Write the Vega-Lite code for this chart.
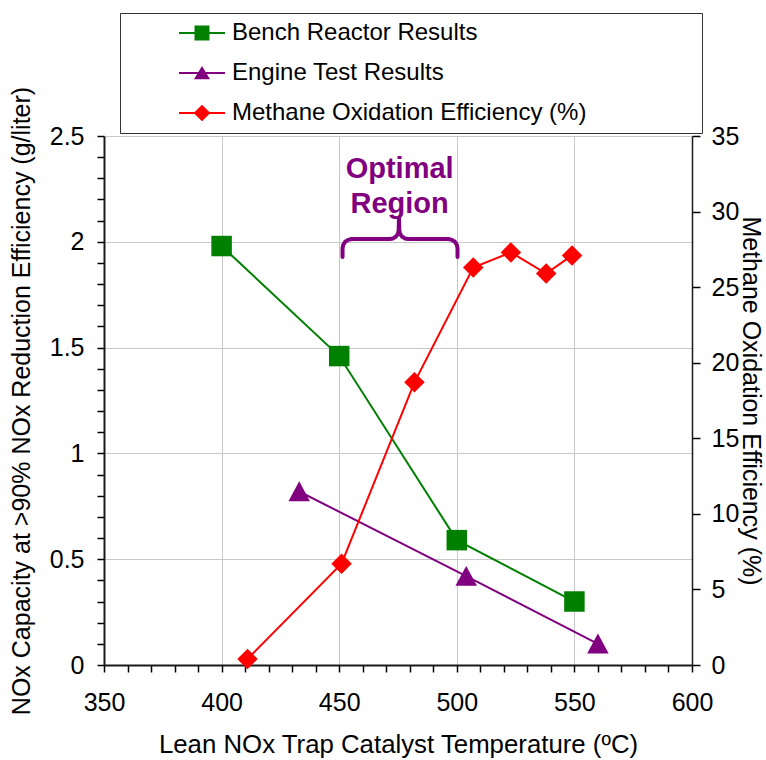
{
  "$schema": "https://vega.github.io/schema/vega-lite/v6.json",
  "width": 588,
  "height": 529,
  "autosize": {"type": "none"},
  "padding": {"left": 104, "top": 136, "right": 74, "bottom": 95},
  "background": "white",
  "config": {
    "view": {"stroke": null},
    "font": "Liberation Sans",
    "axis": {
      "labelFont": "Liberation Sans",
      "titleFont": "Liberation Sans",
      "labelFontSize": 25,
      "titleFontSize": 25.5,
      "titleFontWeight": "normal",
      "labelColor": "#000000",
      "titleColor": "#000000",
      "tickColor": "#000000",
      "tickWidth": 1.5,
      "domainColor": "#1a1a1a",
      "gridColor": "#c8c8c8",
      "gridWidth": 1,
      "labelFlush": false,
      "labelOverlap": false
    },
    "legend": {"symbolOpacity": 1}
  },
  "datasets": {
    "capacity": [
      {"series": "Bench Reactor Results", "temp": 400, "value": 1.98},
      {"series": "Bench Reactor Results", "temp": 450, "value": 1.46},
      {"series": "Bench Reactor Results", "temp": 500, "value": 0.59},
      {"series": "Bench Reactor Results", "temp": 550, "value": 0.30},
      {"series": "Engine Test Results", "temp": 433, "value": 0.82},
      {"series": "Engine Test Results", "temp": 504, "value": 0.42},
      {"series": "Engine Test Results", "temp": 560, "value": 0.10}
    ],
    "methane": [
      {"series": "Methane Oxidation Efficiency (%)", "temp": 411, "value": 0.4},
      {"series": "Methane Oxidation Efficiency (%)", "temp": 451, "value": 6.7},
      {"series": "Methane Oxidation Efficiency (%)", "temp": 482, "value": 18.7},
      {"series": "Methane Oxidation Efficiency (%)", "temp": 507, "value": 26.3},
      {"series": "Methane Oxidation Efficiency (%)", "temp": 523, "value": 27.3},
      {"series": "Methane Oxidation Efficiency (%)", "temp": 538, "value": 25.9},
      {"series": "Methane Oxidation Efficiency (%)", "temp": 549, "value": 27.1}
    ],
    "brace": [
      {"k": 1, "temp": 451.42, "value": 1.928},
      {"k": 2, "temp": 451.42, "value": 1.970},
      {"k": 3, "temp": 451.72, "value": 1.986},
      {"k": 4, "temp": 452.53, "value": 2.000},
      {"k": 5, "temp": 453.81, "value": 2.009},
      {"k": 6, "temp": 455.26, "value": 2.013},
      {"k": 7, "temp": 471.45, "value": 2.013},
      {"k": 8, "temp": 472.90, "value": 2.016},
      {"k": 9, "temp": 474.18, "value": 2.025},
      {"k": 10, "temp": 474.99, "value": 2.039},
      {"k": 11, "temp": 475.29, "value": 2.055},
      {"k": 12, "temp": 475.41, "value": 2.112},
      {"k": 13, "temp": 475.54, "value": 2.055},
      {"k": 14, "temp": 475.84, "value": 2.039},
      {"k": 15, "temp": 476.65, "value": 2.025},
      {"k": 16, "temp": 477.93, "value": 2.016},
      {"k": 17, "temp": 479.38, "value": 2.013},
      {"k": 18, "temp": 496.46, "value": 2.013},
      {"k": 19, "temp": 497.91, "value": 2.009},
      {"k": 20, "temp": 499.19, "value": 2.000},
      {"k": 21, "temp": 500.00, "value": 1.986},
      {"k": 22, "temp": 500.30, "value": 1.970},
      {"k": 23, "temp": 500.30, "value": 1.928}
    ],
    "note": [
      {"label": "Optimal", "temp": 475.7, "value": 2.301},
      {"label": "Region", "temp": 475.7, "value": 2.136}
    ]
  },
  "layer": [
    {
      "layer": [
        {
          "data": {"name": "capacity"},
          "transform": [{"filter": "datum.series === 'Bench Reactor Results'"}],
          "mark": {"type": "line", "color": "#008000", "strokeWidth": 2},
          "encoding": {
            "x": {
              "field": "temp",
              "type": "quantitative",
              "scale": {"domain": [350, 600], "nice": false},
              "axis": {
                "orient": "bottom",
                "title": "Lean NOx Trap Catalyst Temperature (ºC)",
                "titleFontSize": 25.8,
                "values": [350, 360, 370, 380, 390, 400, 410, 420, 430, 440, 450, 460, 470, 480, 490, 500, 510, 520, 530, 540, 550, 560, 570, 580, 590, 600],
                "tickCount": 40,
                "format": "d",
                "labelExpr": "datum.value % 50 === 0 ? datum.label : ''",
                "labelOverlap": false,
                "grid": true,
                "gridOpacity": {"condition": {"test": "datum.value % 50 === 0", "value": 1}, "value": 0},
                "tickSize": 7,
                "labelPadding": 18,
                "titlePadding": 17,
                "domainWidth": 2,
                "encode": {
                  "ticks": {
                    "y": {"condition": {"test": "datum.value % 50 === 0", "value": -7}, "value": 0},
                    "y2": {"condition": {"test": "datum.value % 50 === 0", "value": 7}, "value": -7}
                  }
                }
              }
            },
            "y": {
              "field": "value",
              "type": "quantitative",
              "scale": {"domain": [0, 2.5], "nice": false},
              "axis": {
                "orient": "left",
                "title": "NOx Capacity at >90% NOx Reduction Efficiency (g/liter)",
                "titleFontSize": 25,
                "values": [0, 0.1, 0.2, 0.3, 0.4, 0.5, 0.6, 0.7, 0.8, 0.9, 1, 1.1, 1.2, 1.3, 1.4, 1.5, 1.6, 1.7, 1.8, 1.9, 2, 2.1, 2.2, 2.3, 2.4, 2.5],
                "tickCount": 40,
                "format": "~g",
                "labelExpr": "abs(datum.value * 2 - round(datum.value * 2)) < 0.001 ? datum.label : ''",
                "labelOverlap": false,
                "grid": true,
                "gridOpacity": {"condition": {"test": "abs(datum.value * 2 - round(datum.value * 2)) < 0.001", "value": 1}, "value": 0},
                "tickSize": 7,
                "labelPadding": 13,
                "titlePadding": 15,
                "domainWidth": 2,
                "encode": {
                  "ticks": {
                    "x": {"condition": {"test": "abs(datum.value * 2 - round(datum.value * 2)) < 0.001", "value": -7}, "value": 0},
                    "x2": {"value": 7}
                  }
                }
              }
            }
          }
        },
        {
          "data": {"name": "capacity"},
          "transform": [{"filter": "datum.series === 'Bench Reactor Results'"}],
          "mark": {"type": "point", "shape": "square", "filled": true, "opacity": 1, "size": 420, "color": "#008000"},
          "encoding": {
            "x": {"field": "temp", "type": "quantitative", "scale": {"domain": [350, 600], "nice": false}},
            "y": {"field": "value", "type": "quantitative", "scale": {"domain": [0, 2.5], "nice": false}}
          }
        },
        {
          "data": {"name": "capacity"},
          "transform": [{"filter": "datum.series === 'Engine Test Results'"}],
          "mark": {"type": "line", "color": "#800080", "strokeWidth": 2},
          "encoding": {
            "x": {"field": "temp", "type": "quantitative", "scale": {"domain": [350, 600], "nice": false}},
            "y": {"field": "value", "type": "quantitative", "scale": {"domain": [0, 2.5], "nice": false}}
          }
        },
        {
          "data": {"name": "capacity"},
          "transform": [{"filter": "datum.series === 'Engine Test Results'"}],
          "mark": {"type": "point", "shape": "M0,-1L1.05,0.95L-1.05,0.95Z", "filled": true, "opacity": 1, "size": 420, "color": "#800080"},
          "encoding": {
            "x": {"field": "temp", "type": "quantitative", "scale": {"domain": [350, 600], "nice": false}},
            "y": {"field": "value", "type": "quantitative", "scale": {"domain": [0, 2.5], "nice": false}}
          }
        },
        {
          "data": {"name": "brace"},
          "mark": {"type": "line", "color": "#800080", "strokeWidth": 4, "strokeCap": "round", "strokeJoin": "round"},
          "encoding": {
            "x": {"field": "temp", "type": "quantitative", "scale": {"domain": [350, 600], "nice": false}},
            "y": {"field": "value", "type": "quantitative", "scale": {"domain": [0, 2.5], "nice": false}},
            "order": {"field": "k", "type": "quantitative"}
          }
        },
        {
          "data": {"name": "note"},
          "mark": {"type": "text", "font": "Liberation Sans", "fontSize": 29, "fontWeight": "bold", "color": "#800080", "align": "center", "baseline": "alphabetic"},
          "encoding": {
            "x": {"field": "temp", "type": "quantitative", "scale": {"domain": [350, 600], "nice": false}},
            "y": {"field": "value", "type": "quantitative", "scale": {"domain": [0, 2.5], "nice": false}},
            "text": {"field": "label", "type": "nominal"}
          }
        },
        {
          "data": {"name": "capacity"},
          "mark": {"type": "point", "filled": true, "opacity": 0},
          "encoding": {
            "x": {"field": "temp", "type": "quantitative", "scale": {"domain": [350, 600], "nice": false}},
            "y": {"field": "value", "type": "quantitative", "scale": {"domain": [0, 2.5], "nice": false}},
            "color": {
              "field": "series",
              "type": "nominal",
              "scale": {
                "domain": ["Bench Reactor Results", "Engine Test Results", "Methane Oxidation Efficiency (%)"],
                "range": ["#008000", "#800080", "#ff0000"]
              },
              "legend": {
                "orient": "none",
                "legendX": 16,
                "legendY": -123,
                "title": null,
                "direction": "vertical",
                "fillColor": "white",
                "strokeColor": "#333333",
                "padding": 8,
                "labelFont": "Liberation Sans",
                "labelFontSize": 24,
                "labelColor": "#000000",
                "labelLimit": 1000,
                "labelExpr": "datum.label + '\u00a0\u00a0\u00a0\u00a0\u00a0\u00a0\u00a0\u00a0\u00a0\u00a0\u00a0\u00a0\u00a0\u00a0\u00a0\u00a0\u200b'",
                "symbolSize": 484,
                "symbolStrokeWidth": 0,
                "symbolOpacity": 1,
                "symbolOffset": 62,
                "labelOffset": 18,
                "rowPadding": 16
              }
            },
            "shape": {
              "field": "series",
              "type": "nominal",
              "scale": {
                "domain": ["Bench Reactor Results", "Engine Test Results", "Methane Oxidation Efficiency (%)"],
                "range": [
                  "M-2.09,-0.09H2.09V0.09H-2.09ZM-0.68,-0.68H0.68V0.68H-0.68Z",
                  "M-2.09,-0.09H2.09V0.09H-2.09ZM0,-0.64L0.73,0.57H-0.73Z",
                  "M-2.09,-0.09H2.09V0.09H-2.09ZM0,-0.76L0.76,0L0,0.76L-0.76,0Z"
                ]
              },
              "legend": {
                "orient": "none",
                "legendX": 16,
                "legendY": -123,
                "title": null,
                "direction": "vertical",
                "fillColor": "white",
                "strokeColor": "#333333",
                "padding": 8,
                "labelFont": "Liberation Sans",
                "labelFontSize": 24,
                "labelColor": "#000000",
                "labelLimit": 1000,
                "labelExpr": "datum.label + '\u00a0\u00a0\u00a0\u00a0\u00a0\u00a0\u00a0\u00a0\u00a0\u00a0\u00a0\u00a0\u00a0\u00a0\u00a0\u00a0\u200b'",
                "symbolSize": 484,
                "symbolStrokeWidth": 0,
                "symbolOpacity": 1,
                "symbolOffset": 62,
                "labelOffset": 18,
                "rowPadding": 16
              }
            }
          }
        }
      ]
    },
    {
      "data": {"name": "methane"},
      "layer": [
        {
          "mark": {"type": "line", "color": "#ff0000", "strokeWidth": 2},
          "encoding": {
            "x": {"field": "temp", "type": "quantitative", "scale": {"domain": [350, 600], "nice": false}},
            "y": {
              "field": "value",
              "type": "quantitative",
              "scale": {"domain": [0, 35], "nice": false},
              "axis": {
                "orient": "right",
                "title": "Methane Oxidation Efficiency (%)",
                "titleFontSize": 25,
                "values": [0, 5, 10, 15, 20, 25, 30, 35],
                "tickCount": 40,
                "format": "d",
                "labelOverlap": false,
                "grid": false,
                "tickSize": 8,
                "labelPadding": 11,
                "titlePadding": -1,
                "domainWidth": 1.5,
                "encode": {
                  "ticks": {
                    "x": {"value": -8},
                    "x2": {"value": 8}
                  }
                }
              }
            }
          }
        },
        {
          "mark": {"type": "point", "shape": "diamond", "filled": true, "opacity": 1, "size": 420, "color": "#ff0000"},
          "encoding": {
            "x": {"field": "temp", "type": "quantitative", "scale": {"domain": [350, 600], "nice": false}},
            "y": {"field": "value", "type": "quantitative", "scale": {"domain": [0, 35], "nice": false}}
          }
        }
      ]
    }
  ],
  "resolve": {"scale": {"y": "independent"}}
}
